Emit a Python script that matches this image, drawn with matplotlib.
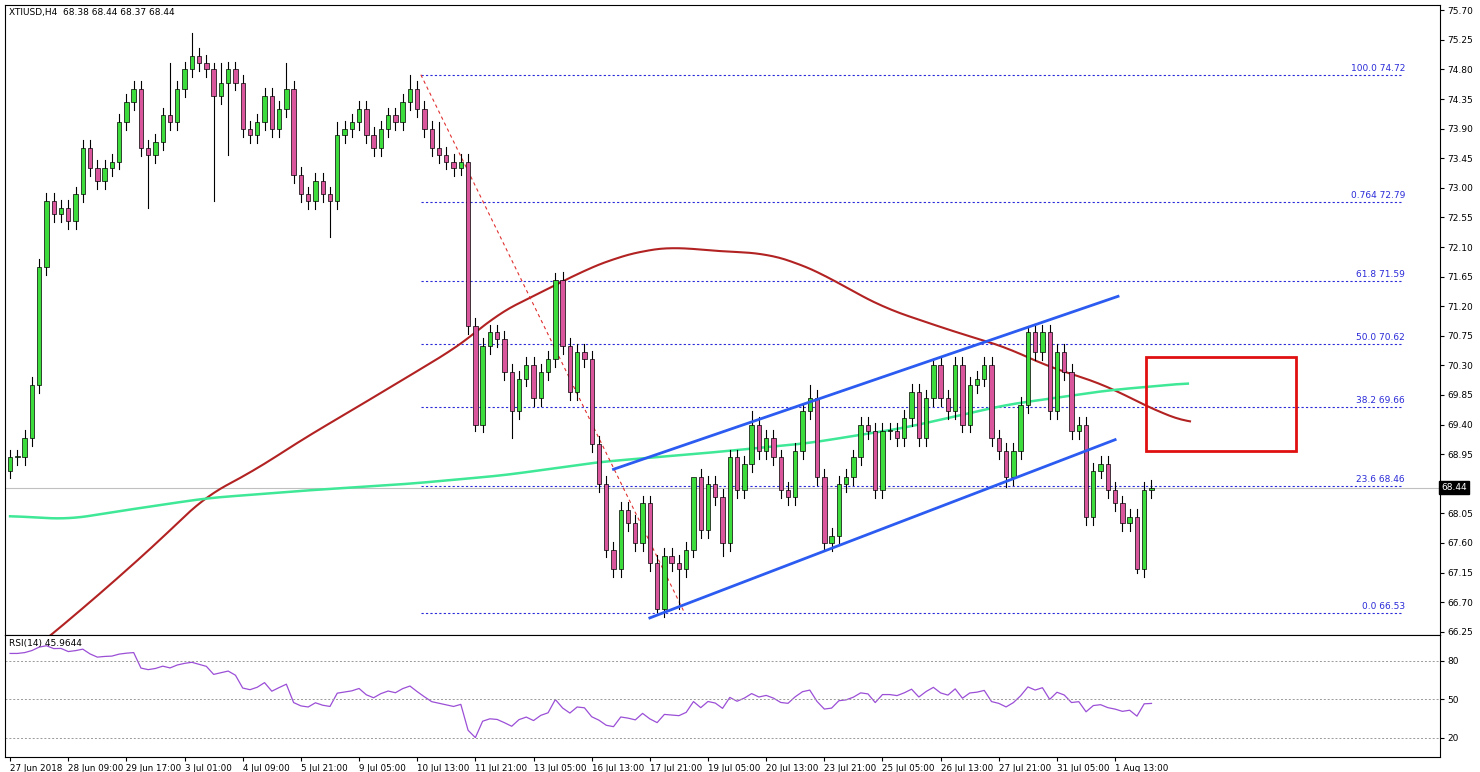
import numpy as np
import matplotlib
matplotlib.use("Agg")
import matplotlib.pyplot as plt
from matplotlib.patches import Rectangle

closes = [68.9, 68.9, 69.2, 70.0, 71.8, 72.8, 72.6, 72.7, 72.5, 72.9,
          73.6, 73.3, 73.1, 73.3, 73.4, 74.0, 74.3, 74.5, 73.6, 73.5,
          73.7, 74.1, 74.0, 74.5, 74.8, 75.0, 74.9, 74.8, 74.4, 74.6,
          74.8, 74.6, 73.9, 73.8, 74.0, 74.4, 73.9, 74.2, 74.5, 73.2,
          72.9, 72.8, 73.1, 72.9, 72.8, 73.8, 73.9, 74.0, 74.2, 73.8,
          73.6, 73.9, 74.1, 74.0, 74.3, 74.5, 74.2, 73.9, 73.6, 73.5,
          73.4, 73.3, 73.4, 70.9, 69.4, 70.6, 70.8, 70.7, 70.2, 69.6,
          70.1, 70.3, 69.8, 70.2, 70.4, 71.6, 70.6, 69.9, 70.5, 70.4,
          69.1, 68.5, 67.5, 67.2, 68.1, 67.9, 67.6, 68.2, 67.3, 66.6,
          67.4, 67.3, 67.2, 67.5, 68.6, 67.8, 68.5, 68.3, 67.6, 68.9,
          68.4, 68.8, 69.4, 69.0, 69.2, 68.9, 68.4, 68.3, 69.0, 69.6,
          69.8, 68.6, 67.6, 67.7, 68.5, 68.6, 68.9, 69.4, 69.3, 68.4,
          69.3, 69.3, 69.2, 69.5, 69.9, 69.2, 69.8, 70.3, 69.8, 69.6,
          70.3, 69.4, 70.0, 70.1, 70.3, 69.2, 69.0, 68.6, 69.0, 69.7,
          70.8, 70.5, 70.8, 69.6, 70.5, 70.2, 69.3, 69.4, 68.0, 68.7,
          68.8, 68.4, 68.2, 67.9, 68.0, 67.2, 68.4, 68.44]
first_open = 68.7
spike_high = {25: 75.35, 22: 74.9, 28: 74.9, 29: 74.9, 38: 74.9, 45: 74.0, 55: 74.72,
              59: 74.0, 75: 71.7, 94: 68.5, 102: 69.6, 110: 70.0, 127: 70.4, 140: 70.9}
spike_low = {28: 72.8, 19: 72.7, 44: 72.25, 62: 73.2, 64: 69.3, 69: 69.2, 89: 66.55,
             92: 66.6, 98: 67.4, 112: 67.5, 155: 67.15, 137: 68.45, 30: 73.5}

red_x = [0, 6.2, 13.1, 19.9, 26.8, 33.7, 40.6, 47.5, 54.3, 61.2, 64, 66.7, 70.8, 75,
         79.1, 83.2, 87.3, 91.5, 95.6, 103.9, 108, 112.1, 116.2, 120.4, 125.9, 131.4,
         136.9, 142.4, 146.5, 150.6, 154.7, 158.9, 162.3]
red_y = [65.7, 66.25, 66.9, 67.57, 68.3, 68.71, 69.2, 69.65, 70.1, 70.56, 70.79, 71.06,
         71.29, 71.52, 71.75, 71.93, 72.05, 72.1, 72.05, 72.0, 71.87, 71.67, 71.41,
         71.17, 70.96, 70.76, 70.58, 70.3, 70.15, 70.0, 69.77, 69.55, 69.42]
green_x = [0, 8, 16, 27, 41, 55, 68, 81, 96, 110, 123, 137, 151, 162]
green_y = [68.01, 67.96, 68.1, 68.28, 68.4, 68.5, 68.63, 68.83, 68.97, 69.12,
           69.35, 69.7, 69.92, 70.03]

fib_levels = [74.72, 72.79, 71.59, 70.62, 69.66, 68.46, 66.53]
fib_labels = ["100.0 74.72", "0.764 72.79", "61.8 71.59", "50.0 70.62",
              "38.2 69.66", "23.6 68.46", "0.0 66.53"]
xlabels = ["27 Jun 2018", "28 Jun 09:00", "29 Jun 17:00", "3 Jul 01:00", "4 Jul 09:00",
           "5 Jul 21:00", "9 Jul 05:00", "10 Jul 13:00", "11 Jul 21:00", "13 Jul 05:00",
           "16 Jul 13:00", "17 Jul 21:00", "19 Jul 05:00", "20 Jul 13:00", "23 Jul 21:00",
           "25 Jul 05:00", "26 Jul 13:00", "27 Jul 21:00", "31 Jul 05:00", "1 Aug 13:00"]
yticks = [66.25, 66.70, 67.15, 67.60, 68.05, 68.50, 68.95, 69.40, 69.85, 70.30, 70.75,
          71.20, 71.65, 72.10, 72.55, 73.00, 73.45, 73.90, 74.35, 74.80, 75.25, 75.70]

px = 7.27
N = len(closes)
xmax = 1435 / px
fig = plt.figure(figsize=(14.8, 7.72), dpi=100)
ax = fig.add_axes([5/1480, 137/772, 1435/1480, 630/772])
ax2 = fig.add_axes([5/1480, 15/772, 1435/1480, 122/772])
ax.set_xlim(-0.7, xmax - 0.7)
ax2.set_xlim(-0.7, xmax - 0.7)
ax.set_ylim(66.20, 75.78)

opens = [first_open] + closes[:-1]
for i in range(N):
    o, c = opens[i], closes[i]
    hi = spike_high.get(i, max(o, c) + 0.12)
    lo = spike_low.get(i, min(o, c) - 0.12)
    ax.plot([i, i], [lo, hi], color="black", lw=0.8, zorder=3)
    col = "#3ddc3d" if c >= o else "#d9559c"
    ax.add_patch(Rectangle((i - 0.3, min(o, c)), 0.6, max(abs(c - o), 0.02),
                           facecolor=col, edgecolor="black", lw=0.5, zorder=4))

# smooth the traced moving averages for drawing
def smooth_line(xs, ys):
    fx = np.linspace(xs[0], xs[-1], 400)
    fy = np.interp(fx, xs, ys)
    k = np.ones(15) / 15
    pad = np.pad(fy, 7, mode="edge")
    return fx, np.convolve(pad, k, mode="valid")

ax.plot(*smooth_line(red_x, red_y), color="#b22222", lw=1.5, zorder=2)
ax.plot(*smooth_line(green_x, green_y), color="#3ee896", lw=1.8, zorder=2)

x0 = 56.5
for lv, lb in zip(fib_levels, fib_labels):
    ax.plot([x0, xmax - 6], [lv, lv], color="#2b2bd9", lw=0.8, ls=(0, (2, 2)), zorder=1)
    ax.text(xmax - 5.5, lv + 0.03, lb, color="#2b2bd9", fontsize=6.5, ha="right", va="bottom")
ax.axhline(68.44, color="#c0c0c0", lw=0.8, zorder=0)
ax.plot([x0, 92.8], [74.72, 66.53], color="#e03030", lw=0.8, ls=(0, (3, 3)), zorder=2)

ax.plot([88, 152], [66.46, 69.17], color="#2b5bf0", lw=2, zorder=5)
ax.plot([83, 152.4], [68.72, 71.35], color="#2b5bf0", lw=2, zorder=5)
ax.add_patch(Rectangle((156.3, 69.0), 20.6, 1.43, fill=False, edgecolor="#e01010", lw=2, zorder=5))

ax.yaxis.tick_right()
ax.set_yticks(yticks)
ax.set_yticklabels(["" if abs(v - 68.50) < 1e-6 else f"{v:.2f}" for v in yticks], fontsize=6.5)
ax.tick_params(axis="y", length=3, pad=2)
ax.set_xticks([])
ax.text(0.003, 0.995, "XTIUSD,H4  68.38 68.44 68.37 68.44", transform=ax.transAxes,
        fontsize=6.5, va="top")
ax.text(xmax - 0.5, 68.44, "68.44", fontsize=6.5, color="white", va="center",
        bbox=dict(facecolor="black", edgecolor="black", pad=1.5), clip_on=False)

# RSI (14) computed from closes
c = np.array([first_open] + closes)
d = np.diff(c)
up = np.where(d > 0, d, 0.0)
dn = np.where(d < 0, -d, 0.0)
ag, al = up[:14].mean() + 0.05, dn[:14].mean() + 0.01
rsi = []
for i in range(N):
    if i > 0:
        ag = (ag * 13 + up[i]) / 14
        al = (al * 13 + dn[i]) / 14
    rsi.append(100 - 100 / (1 + ag / max(al, 1e-6)))
ax2.plot(range(N), rsi, color="#9b4fd6", lw=0.9)
ax2.set_ylim(5, 100)
for lv in (20, 50, 80):
    ax2.axhline(lv, color="#999999", lw=0.7, ls=(0, (2, 2)))
ax2.yaxis.tick_right()
ax2.set_yticks([20, 50, 80])
ax2.set_yticklabels(["20", "50", "80"], fontsize=6.5)
ax2.tick_params(axis="y", length=3, pad=2)
ax2.text(0.003, 0.97, "RSI(14) 45.9644", transform=ax2.transAxes, fontsize=6.5, va="top")
ax2.set_xticks([8 * k for k in range(len(xlabels))])
ax2.set_xticklabels(xlabels, fontsize=6.3, ha="left")
ax2.tick_params(axis="x", length=3, pad=2)

fig.savefig("out.png", dpi=100)
